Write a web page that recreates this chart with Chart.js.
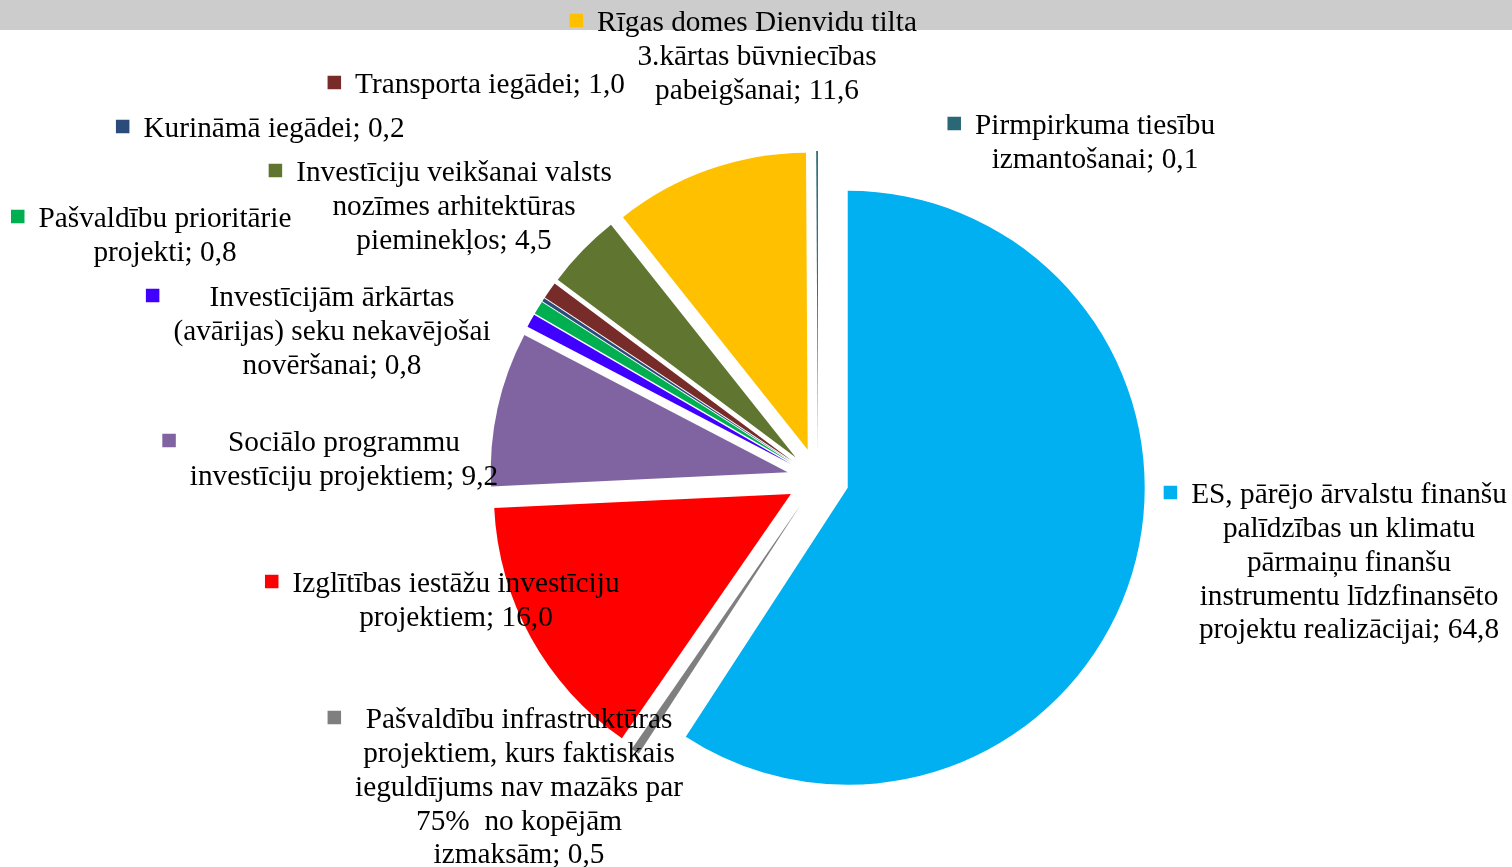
<!DOCTYPE html>
<html>
<head>
<meta charset="utf-8">
<script src="https://cdn.jsdelivr.net/npm/chart.js@4/dist/chart.umd.min.js"></script>
<style>
html,body{margin:0;padding:0;background:#fff;}
#wrap{position:relative;width:1512px;height:867px;}
</style>
</head>
<body>
<div id="wrap"><canvas id="c" width="1512" height="867"></canvas></div>
<script>
// ---- data ----
const categories = [
  "ES, pārējo ārvalstu finanšu palīdzības un klimatu pārmaiņu finanšu instrumentu līdzfinansēto projektu realizācijai",
  "Pašvaldību infrastruktūras projektiem, kurs faktiskais ieguldījums nav mazāks par 75%  no kopējām izmaksām",
  "Izglītības iestāžu investīciju projektiem",
  "Sociālo programmu investīciju projektiem",
  "Investīcijām ārkārtas (avārijas) seku nekavējošai novēršanai",
  "Pašvaldību prioritārie projekti",
  "Kurināmā iegādei",
  "Transporta iegādei",
  "Investīciju veikšanai valsts nozīmes arhitektūras pieminekļos",
  "Rīgas domes Dienvidu tilta 3.kārtas būvniecības pabeigšanai",
  "Pirmpirkuma tiesību izmantošanai"
];
const values = [64.8, 0.5, 16.0, 9.2, 0.8, 0.8, 0.2, 1.0, 4.5, 11.6, 0.1];
const valueLabels = ["64,8","0,5","16,0","9,2","0,8","0,8","0,2","1,0","4,5","11,6","0,1"];
const colors = ["#00B0F0","#7F7F7F","#FF0000","#8064A2","#4000FF","#00B050","#2B4C7A","#772C2A","#5F7530","#FFC000","#2A6878"];

// label line breaks (text wrapping as in the reference)
const labelLines = [
  ["ES, pārējo ārvalstu finanšu","palīdzības un klimatu","pārmaiņu finanšu","instrumentu līdzfinansēto","projektu realizācijai; "],
  ["Pašvaldību infrastruktūras","projektiem, kurs faktiskais","ieguldījums nav mazāks par","75%  no kopējām","izmaksām; "],
  ["Izglītības iestāžu investīciju","projektiem; "],
  ["Sociālo programmu","investīciju projektiem; "],
  ["Investīcijām ārkārtas","(avārijas) seku nekavējošai","novēršanai; "],
  ["Pašvaldību prioritārie","projekti; "],
  ["Kurināmā iegādei; "],
  ["Transporta iegādei; "],
  ["Investīciju veikšanai valsts","nozīmes arhitektūras","pieminekļos; "],
  ["Rīgas domes Dienvidu tilta","3.kārtas būvniecības","pabeigšanai; "],
  ["Pirmpirkuma tiesību","izmantošanai; "]
];
// label block placement: [center x, first line center y]
const labelPos = [
  [1349, 495.5],[519, 720.5],[456, 584.5],[344, 443.5],[332, 298.5],[165, 219.5],
  [274, 129.5],[490, 85.5],[454, 173.5],[757, 23.5],[1095, 126.5]
];

const EXPLODE = 31;
const FONT = '29.3px "Liberation Serif", "Times New Roman", serif';
const LINE_H = 33.8;

const explodePlugin = {
  id: 'explode',
  beforeDraw(chart){
    const ctx = chart.ctx;
    ctx.save();
    ctx.fillStyle = '#CCCCCC';
    ctx.fillRect(0, 0, chart.width, 30);
    ctx.restore();
  },
  beforeDatasetDraw(chart, args){
    const ctx = chart.ctx;
    ctx.save();
    args.meta.data.forEach((arc) => {
      const p = arc.getProps(['x','y','startAngle','endAngle','outerRadius'], true);
      const mid = (p.startAngle + p.endAngle) / 2;
      const ox = p.x + Math.cos(mid) * EXPLODE;
      const oy = p.y + Math.sin(mid) * EXPLODE;
      ctx.beginPath();
      ctx.moveTo(ox, oy);
      ctx.arc(ox, oy, p.outerRadius, p.startAngle, p.endAngle);
      ctx.closePath();
      ctx.fillStyle = arc.options.backgroundColor;
      ctx.fill();
    });
    ctx.restore();
    return false;
  },
  afterDraw(chart){
    const ctx = chart.ctx;
    ctx.save();
    ctx.font = FONT;
    ctx.textAlign = 'center';
    ctx.textBaseline = 'middle';
    ctx.fillStyle = '#000';
    labelLines.forEach((lines, i) => {
      const full = lines.slice();
      full[full.length - 1] = full[full.length - 1] + valueLabels[i];
      const [cx, y0] = labelPos[i];
      let minLeft = Infinity;
      full.forEach((t, k) => {
        const w = ctx.measureText(t).width;
        minLeft = Math.min(minLeft, cx - w / 2);
        ctx.fillText(t, cx, y0 + k * LINE_H);
      });
      const sz = 13.5;
      ctx.fillStyle = colors[i];
      ctx.fillRect(minLeft - 14 - sz, y0 - sz / 2 - 3, sz, sz);
      ctx.fillStyle = '#000';
    });
    ctx.restore();
  }
};

new Chart(document.getElementById('c'), {
  type: 'pie',
  data: {
    labels: categories,
    datasets: [{
      data: values,
      backgroundColor: colors,
      borderWidth: 0
    }]
  },
  options: {
    responsive: false,
    animation: false,
    radius: 297,
    layout: { padding: { left: 124, right: 0, top: 91, bottom: 0 } },
    plugins: { legend: { display: false }, tooltip: { enabled: false } }
  },
  plugins: [explodePlugin]
});
</script>
</body>
</html>
